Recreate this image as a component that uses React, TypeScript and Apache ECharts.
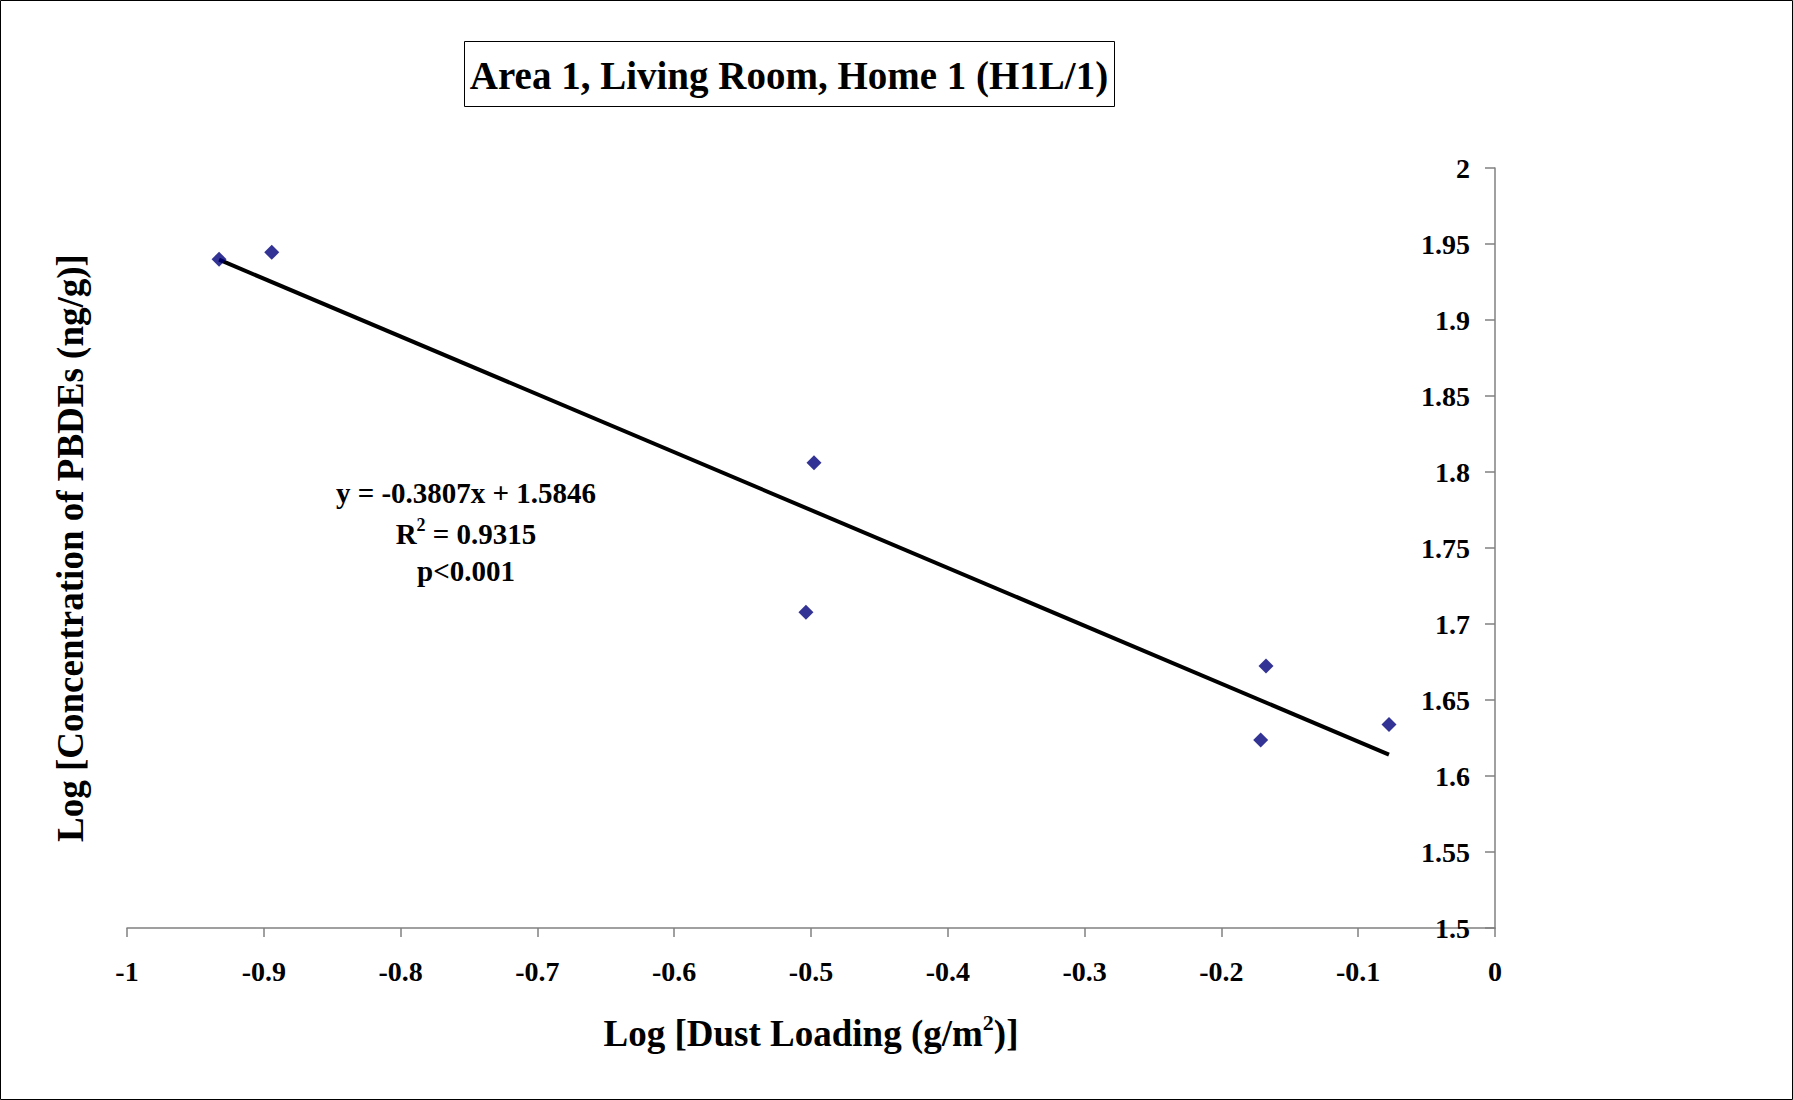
import React, { useEffect, useRef } from "react";
import * as echarts from "echarts";

// Sample points: log dust loading (x) vs log PBDE concentration (y)
const dustLoadingLog = [-0.9327, -0.8942, -0.4978, -0.5037, -0.1674, -0.1713, -0.0775];
const pbdeConcLog = [1.94, 1.9445, 1.8061, 1.7077, 1.6724, 1.6237, 1.6338];

// Linear fit reported on the chart
const fitSlope = -0.3807;
const fitIntercept = 1.5846;
const fitR2 = "0.9315";
const fitP = "p<0.001";

const chartTitle = "Area 1, Living Room, Home 1 (H1L/1)";
const yAxisTitle = "Log [Concentration of PBDEs (ng/g)]";

const FONT = "'Times New Roman', 'Liberation Serif', serif";

export default function App() {
  const ref = useRef<HTMLDivElement>(null);

  useEffect(() => {
    if (!ref.current) return;
    const chart = echarts.init(ref.current, null, { renderer: "svg" });

    const points = dustLoadingLog.map((x, i) => [x, pbdeConcLog[i]]);
    const xMin = Math.min(...dustLoadingLog);
    const xMax = Math.max(...dustLoadingLog);
    const fitLine = [
      [xMin, fitSlope * xMin + fitIntercept],
      [xMax, fitSlope * xMax + fitIntercept],
    ];

    const sign = fitIntercept >= 0 ? "+" : "-";
    const eqText = `y = ${fitSlope}x ${sign} ${Math.abs(fitIntercept)}`;

    const axisGray = "#808080";

    chart.setOption({
      animation: false,
      backgroundColor: "#ffffff",
      grid: { left: 127, top: 168, width: 1368, height: 760, containLabel: false },
      xAxis: {
        type: "value",
        min: -1,
        max: 0,
        interval: 0.1,
        splitLine: { show: false },
        axisLine: { show: true, onZero: false, lineStyle: { color: axisGray, width: 1.5 } },
        axisTick: { show: true, inside: false, length: 9, lineStyle: { color: axisGray, width: 1.5 } },
        axisLabel: {
          margin: 29,
          color: "#000",
          fontFamily: FONT,
          fontWeight: "bold",
          fontSize: 28,
          formatter: (v: number) => String(Math.round(v * 10) / 10),
        },
        name: "{a|Log [Dust Loading (g/m}{s|2}{a|)]}",
        nameLocation: "middle",
        nameGap: 83,
        nameTextStyle: {
          rich: {
            a: { fontFamily: FONT, fontWeight: "bold", fontSize: 37, color: "#000" },
            s: {
              fontFamily: FONT,
              fontWeight: "bold",
              fontSize: 22,
              color: "#000",
              padding: [0, 0, 22, 0],
            },
          },
        },
      },
      yAxis: {
        type: "value",
        position: "right",
        min: 1.5,
        max: 2,
        interval: 0.05,
        splitLine: { show: false },
        axisLine: { show: true, onZero: false, lineStyle: { color: axisGray, width: 1.5 } },
        axisTick: { show: true, inside: true, length: 10, lineStyle: { color: axisGray, width: 1.5 } },
        axisLabel: {
          inside: true,
          margin: 25,
          color: "#000",
          fontFamily: FONT,
          fontWeight: "bold",
          fontSize: 28,
          formatter: (v: number) => String(Math.round(v * 100) / 100),
        },
      },
      series: [
        {
          type: "line",
          data: fitLine,
          symbol: "none",
          lineStyle: { color: "#000", width: 4 },
          z: 2,
        },
        {
          type: "scatter",
          data: points,
          symbol: "diamond",
          symbolSize: 15,
          itemStyle: { color: "#00007a" },
          z: 3,
        },
      ],
      graphic: [
        {
          type: "rect",
          shape: { x: 0.5, y: 0.5, width: 1792, height: 1099 },
          style: { fill: "none", stroke: "#000", lineWidth: 1 },
          silent: true,
        },
        {
          type: "rect",
          shape: { x: 464.5, y: 41.5, width: 650, height: 65 },
          style: { fill: "#fff", stroke: "#000", lineWidth: 1 },
          silent: true,
        },
        {
          type: "text",
          x: 789,
          y: 75,
          style: {
            text: chartTitle,
            fontFamily: FONT,
            fontWeight: "bold",
            fontSize: 39,
            fill: "#000",
            align: "center",
            verticalAlign: "middle",
          },
        },
        {
          type: "text",
          x: 70,
          y: 548,
          rotation: Math.PI / 2,
          style: {
            text: yAxisTitle,
            fontFamily: FONT,
            fontWeight: "bold",
            fontSize: 37,
            fill: "#000",
            align: "center",
            verticalAlign: "middle",
          },
        },
        {
          type: "text",
          x: 466,
          y: 493,
          style: {
            text: eqText,
            fontFamily: FONT,
            fontWeight: "bold",
            fontSize: 29,
            fill: "#000",
            align: "center",
            verticalAlign: "middle",
          },
        },
        {
          type: "text",
          x: 466,
          y: 534,
          style: {
            text: `{a|R}{s|2}{a| = ${fitR2}}`,
            align: "center",
            verticalAlign: "middle",
            rich: {
              a: { fontFamily: FONT, fontWeight: "bold", fontSize: 29, fill: "#000" },
              s: {
                fontFamily: FONT,
                fontWeight: "bold",
                fontSize: 18,
                fill: "#000",
                padding: [0, 0, 18, 0],
              },
            },
          },
        },
        {
          type: "text",
          x: 466,
          y: 571,
          style: {
            text: fitP,
            fontFamily: FONT,
            fontWeight: "bold",
            fontSize: 29,
            fill: "#000",
            align: "center",
            verticalAlign: "middle",
          },
        },
      ],
    });

    return () => chart.dispose();
  }, []);

  return (
    <div
      ref={ref}
      style={{ position: "absolute", left: 0, top: 0, width: 1793, height: 1100, background: "#fff" }}
    />
  );
}
